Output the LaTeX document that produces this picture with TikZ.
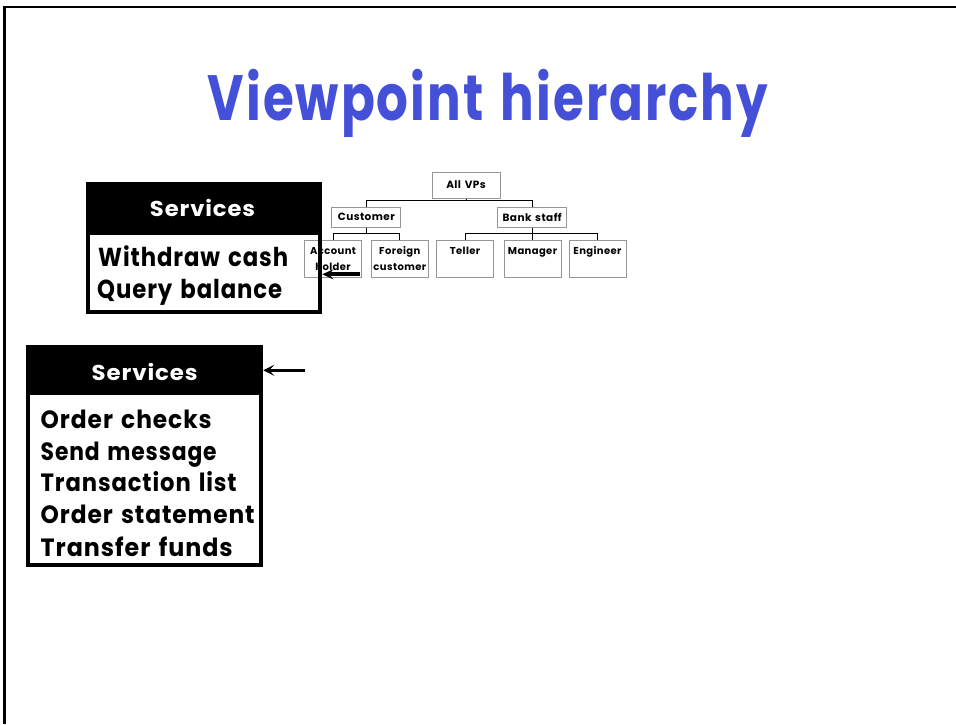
\documentclass[tikz,border=0pt]{standalone}
\usepackage{fontspec}
\setmainfont{Poppins}[LetterSpace=4,WordSpace=1.4]
\usepackage{graphicx}
\usetikzlibrary{arrows.meta}
\definecolor{titleblue}{RGB}{68,80,216}
\definecolor{treegray}{RGB}{150,150,150}
\newcommand\fitw[2]{\resizebox{#1}{\height}{#2}}
\newcommand\leafbox[1]{\parbox[c][36.7pt][t]{57pt}{\centering\fontsize{10}{15.5}\selectfont\rule{0pt}{14.3pt}#1}}
\begin{document}
\begin{tikzpicture}[x=1pt,y=-1pt,
  tbox/.style={draw=treegray, line width=1pt, inner sep=0pt, text=black, font=\bfseries\fontsize{10.5}{13}\selectfont},
  topbox/.style={tbox, minimum width=68pt, minimum height=26pt},
  midbox/.style={tbox, minimum width=69pt, minimum height=20.5pt},
  leaf/.style={tbox, anchor=north},
  conn/.style={draw=black, line width=0.9pt},
  svcframe/.style={draw=black, line width=4pt, inner sep=0pt},
  hdrtext/.style={text=white, font=\bfseries\fontsize{21.5}{24}\selectfont, inner sep=0pt, anchor=base},
  itemtext/.style={text=black, font=\bfseries\fontsize{26}{30}\selectfont, inner sep=0pt, anchor=base west},
  itemtwo/.style={itemtext, font=\bfseries\fontsize{25}{30}\selectfont},
  titletext/.style={text=titleblue, font=\bfseries\fontsize{64}{70}\selectfont, inner sep=0pt, anchor=base},
  arrowone/.style={draw=black, line width=4pt, -{Stealth[length=11pt,width=10pt,inset=4pt]}},
  arrowtwo/.style={draw=black, line width=3.4pt, -{Stealth[length=11pt,width=11pt,inset=5pt]}}
]
\useasboundingbox (0,0) rectangle (956,724);
\fill[white] (0,0) rectangle (956,724);

% slide frame
\draw[line width=2.3pt] (4.6,724) -- (4.6,7.2) -- (956,7.2);

% title
\node[titletext] (title) at (488,120.3) {\fitw{560pt}{Viewpoint hierarchy}};

% tree
\node[topbox] (all) at (466,185) {All VPs};
\node[midbox] (cust) at (366.3,217.3) {Customer};
\node[midbox] (bank) at (532.2,217.3) {Bank staff};
\node[leaf] (acc) at (333.1,240) {\leafbox{Account\\holder}};
\node[leaf] (for) at (399.8,240) {\leafbox{Foreign\\customer}};
\node[leaf] (tel) at (465,240) {\leafbox{Teller}};
\node[leaf] (man) at (532.5,240) {\leafbox{Manager}};
\node[leaf] (eng) at (597.5,240) {\leafbox{Engineer}};

\coordinate (j1) at ([yshift=-2pt]all.south);
\coordinate (j2) at ([yshift=-5.5pt]cust.south);
\coordinate (j3) at ([yshift=-5.5pt]bank.south);
\draw[conn] (all.south) -- (j1);
\draw[conn] (cust.north) |- (j1) -| (bank.north);
\draw[conn] (cust.south) -- (j2);
\draw[conn] (acc.north) |- (j2) -| (for.north);
\draw[conn] (bank.south) -- (j3);
\draw[conn] (tel.north) |- (j3) -| (eng.north);
\draw[conn] (j3) -- (j3 -| man.north) -- (man.north);

% services box 1
\fill[black] (86,182) rectangle (322,235);
\node[svcframe, minimum width=232.3pt, minimum height=128.1pt] (box1) at (204.15,248.25) {};
\node[hdrtext] (h1) at (202.5,216.7) {\fitw{105pt}{Services}};
\node[itemtext] (w1) at (98,266.7) {\fitw{190pt}{Withdraw cash}};
\node[itemtext] (q1) at (97,298.3) {\fitw{185pt}{Query balance}};

% services box 2
\fill[black] (26,345) rectangle (263.3,395);
\node[svcframe, minimum width=233.3pt, minimum height=217.7pt] (box2) at (144.65,455.85) {};
\node[hdrtext] (h2) at (144.7,380) {\fitw{106pt}{Services}};
\node[itemtwo] (o1) at (40.5,428.3) {\fitw{171pt}{Order checks}};
\node[itemtwo] (o2) at (40.5,460) {\fitw{176pt}{Send message}};
\node[itemtwo] (o3) at (40.5,491.7) {\fitw{196pt}{Transaction list}};
\node[itemtwo] (o4) at (40.5,523.3) {\fitw{214pt}{Order statement}};
\node[itemtwo] (o5) at (40.5,556) {\fitw{192pt}{Transfer funds}};

% arrows
\coordinate (a1s) at (360,274.3);
\coordinate (a2s) at (305,370.3);
\draw[arrowone] (a1s) -- (a1s -| box1.east);
\draw[arrowtwo] (a2s) -- (a2s -| box2.east);
\end{tikzpicture}
\end{document}
